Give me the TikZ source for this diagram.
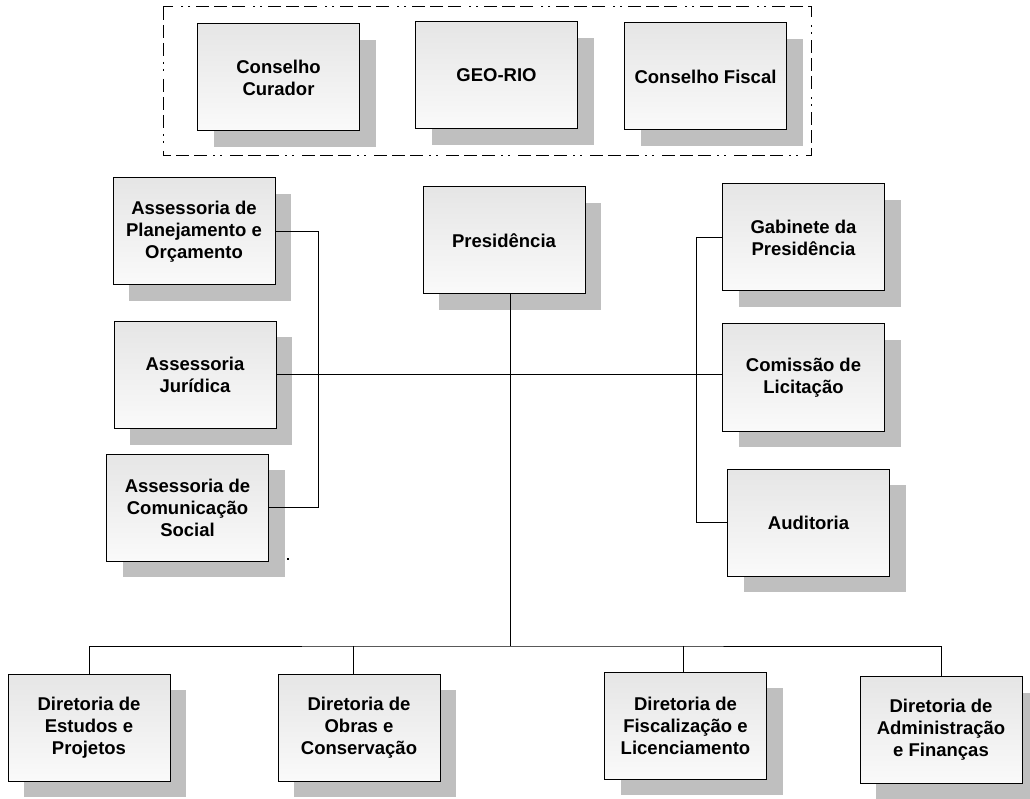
\documentclass[tikz,border=0pt]{standalone}
\usepackage{fontspec}
\setmainfont{Liberation Sans}
\usetikzlibrary{shadows}

\begin{document}
\begin{tikzpicture}[x=1pt,y=-1pt,line width=1pt,
    font=\fontsize{18.5}{22}\selectfont\bfseries]
    \tikzstyle{unit}=[draw,rectangle,minimum width=162pt,minimum height=107pt,
      inner sep=2pt,align=center,top color=black!10,bottom color=black!2,
      drop shadow={shadow xshift=16pt,shadow yshift=-16pt,fill=black!25,opacity=1}]
    \tikzstyle{frame}=[line width=1pt,dash pattern=on 13pt off 5pt on 13pt off 5pt on 13pt off 6pt on 2pt off 5pt on 2pt off 8pt]

    \useasboundingbox (0,0) rectangle (1030,799);

    \draw[frame] (163,7) rectangle (811,156);
    \node[unit] (curador) at (278.5, 77.5) {Conselho\\Curador};
    \node[unit] (georio)  at (496.5, 75.5) {GEO-RIO};
    \node[unit] (cfiscal) at (705.5, 76.5) {Conselho Fiscal};

    \node[unit] (planej)   at (194,   231.5) {Assessoria de\\Planejamento e\\Orçamento};
    \node[unit] (juridica) at (195,   375)   {Assessoria\\Jurídica};
    \node[unit] (comunic)  at (187.5, 507.5) {Assessoria de\\Comunicação\\Social};
    \node[unit] (presid)   at (504,   240.5) {Presidência};
    \node[unit] (gabinete) at (803.5, 237.5) {Gabinete da\\Presidência};
    \node[unit] (comissao) at (803.5, 377.5) {Comissão de\\Licitação};
    \node[unit] (auditor)  at (808.5, 522.5) {Auditoria};

    \node[unit] (estudos)  at (89,    727.5) {Diretoria de\\Estudos e\\Projetos};
    \node[unit] (obras)    at (359,   727.5) {Diretoria de\\Obras e\\Conservação};
    \node[unit] (fiscaliz) at (685.5, 725.5) {Diretoria de\\Fiscalização e\\Licenciamento};
    \node[unit] (admin)    at (941,   730)   {Diretoria de\\Administração\\e Finanças};

    \coordinate (lv) at (318, 231.5);
    \coordinate (rv) at (696, 237.5);
    \coordinate (bus) at (510, 646);

    \draw (planej.east) -- (lv) |- (comunic.east);
    \draw (gabinete.west) -- (rv) |- (auditor.west);
    \draw ([yshift=1pt]juridica.east) -- ([yshift=1pt]juridica.east -| comissao.west);
    \draw (presid.south -| bus) -- (bus);
    \draw (estudos.north) |- (bus) -| (admin.north);
    \draw ([xshift=-6pt]obras.north) -- ([xshift=-6pt]obras.north |- bus);
    \draw ([xshift=-2pt]fiscaliz.north) -- ([xshift=-2pt]fiscaliz.north |- bus);

    \fill (287,558) rectangle (289,560);
  \end{tikzpicture}
\end{document}
